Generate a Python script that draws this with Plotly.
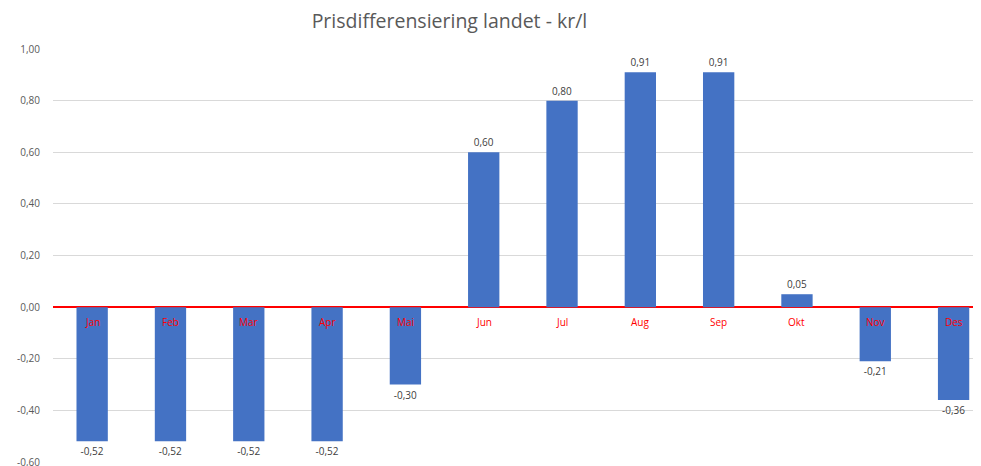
import plotly.graph_objects as go

# Monthly price differentiation, kr/l
months = ["Jan", "Feb", "Mar", "Apr", "Mai", "Jun", "Jul", "Aug", "Sep", "Okt", "Nov", "Des"]
values = [-0.52, -0.52, -0.52, -0.52, -0.30, 0.60, 0.80, 0.91, 0.91, 0.05, -0.21, -0.36]
y_ticks = [1.0, 0.8, 0.6, 0.4, 0.2, 0.0, -0.2, -0.4, -0.6]


def fmt(v):
    return f"{v:.2f}".replace(".", ",")


fig = go.Figure(go.Bar(
    x=months,
    y=values,
    width=0.4,
    marker_color="#4472C4",
    marker_line_width=0,
    text=[fmt(v) for v in values],
    textposition="outside",
    textfont=dict(size=10, color="#404040", family="Open Sans"),
    cliponaxis=False,
))

# month names sit just under the zero line, in red
for m in months:
    fig.add_annotation(x=m, y=0, text=m, showarrow=False, yanchor="top", yshift=-6,
                       font=dict(size=10, color="#ff0000", family="Open Sans"))

fig.update_layout(
    width=981, height=466,
    margin=dict(l=45, r=8, t=41, b=12),
    plot_bgcolor="white", paper_bgcolor="white",
    showlegend=False,
    title=dict(text="Prisdifferensiering landet - kr/l", x=0.450, xanchor="center",
               y=0.972, yanchor="middle",
               font=dict(size=19.5, color="#595959", family="Open Sans")),
    font=dict(family="Open Sans", color="#595959"),
)
fig.update_xaxes(showticklabels=False, showgrid=False, zeroline=False, showline=False,
                 range=[-0.5, 11.35], automargin=False)
fig.update_yaxes(range=[-0.6, 1.0], tickvals=y_ticks, ticktext=[fmt(v) for v in y_ticks],
                 tickfont=dict(size=10, color="#595959"), gridcolor="#d9d9d9", gridwidth=1,
                 zeroline=True, zerolinecolor="#ff0000", zerolinewidth=1.5,
                 ticks="", ticklabelstandoff=12, automargin=False)

fig.write_html("out.html")
